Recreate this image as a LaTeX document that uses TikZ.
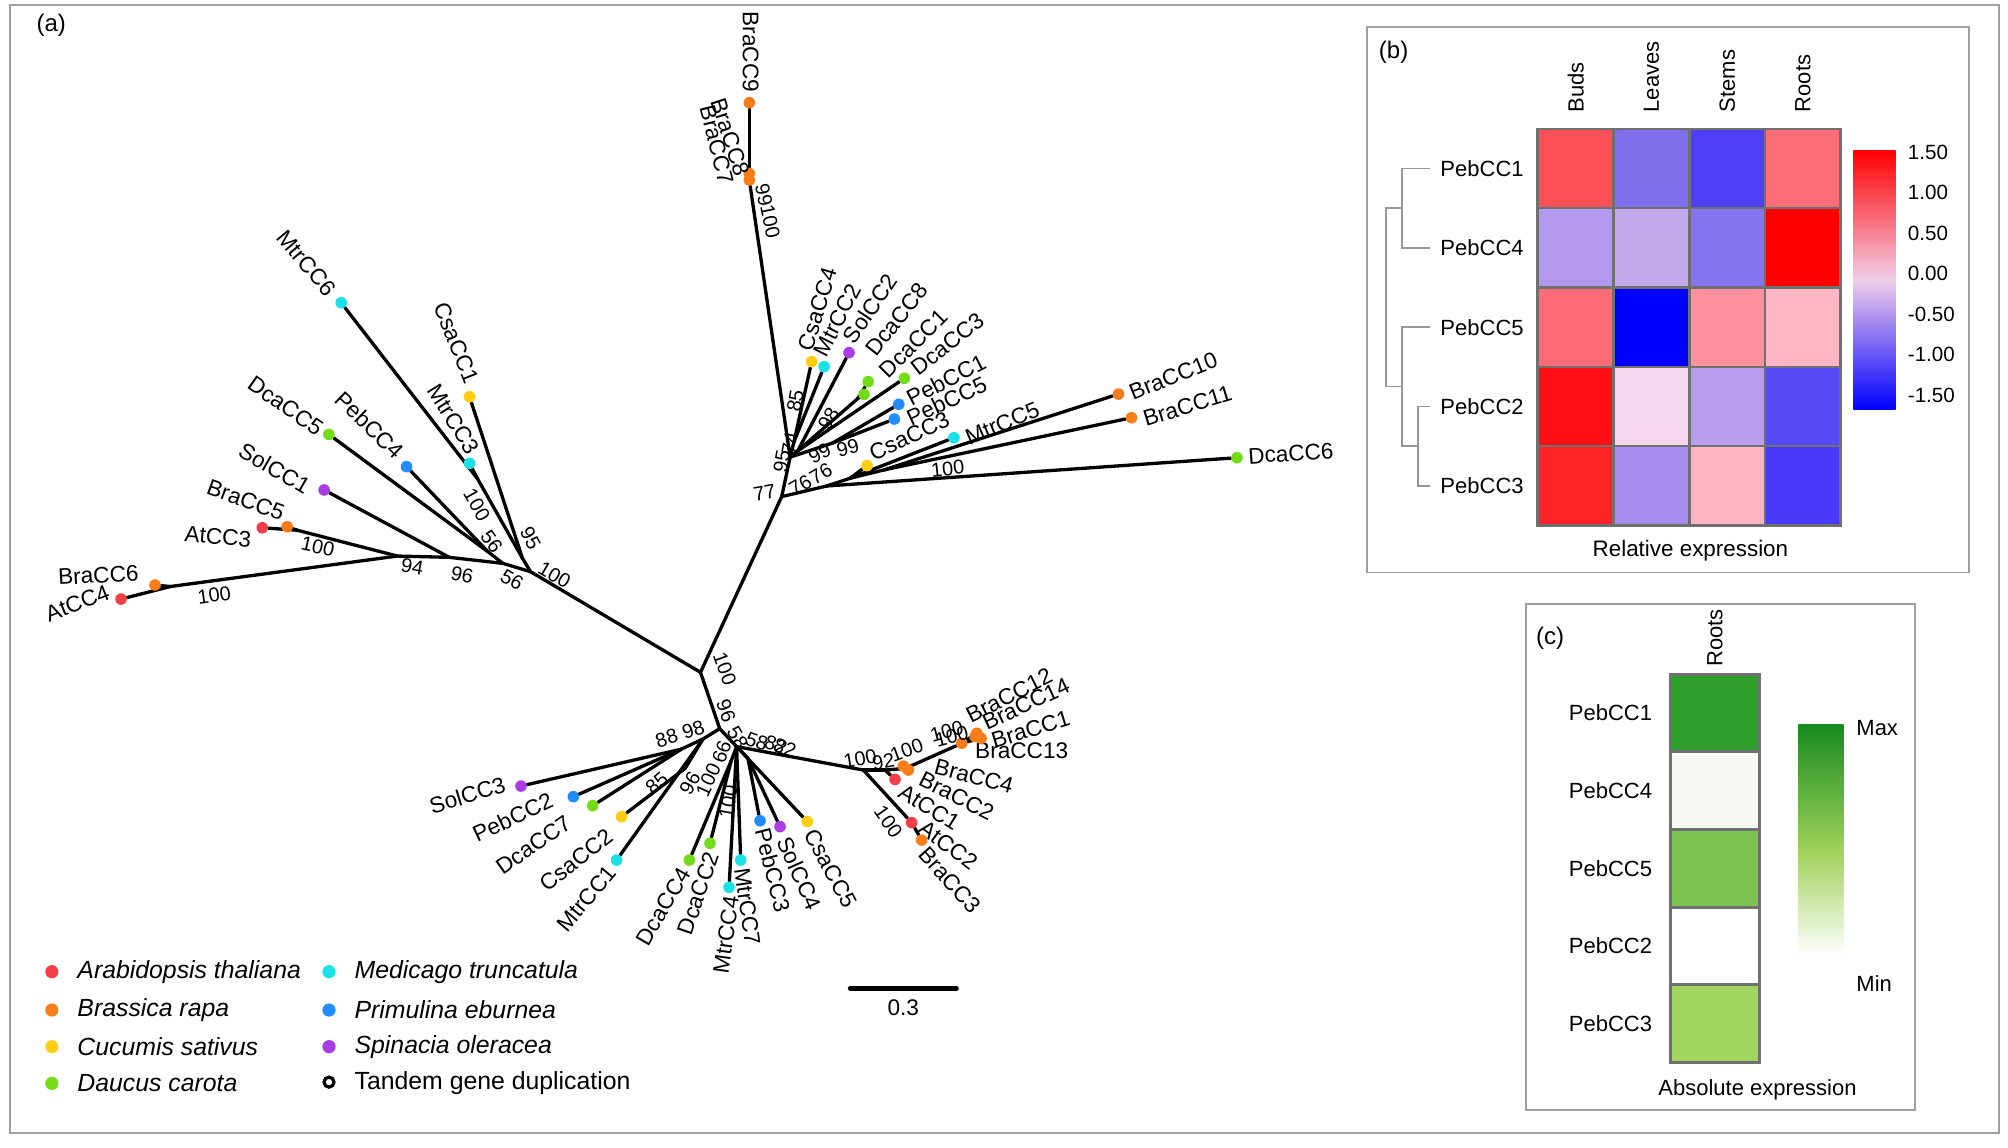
\documentclass[tikz,border=0pt]{standalone}
\usepackage{fontspec}
\setmainfont{Liberation Sans}
\usetikzlibrary{calc, backgrounds}
\definecolor{cAt}{RGB}{242,62,70}
\definecolor{cBra}{RGB}{250,125,25}
\definecolor{cCsa}{RGB}{255,205,20}
\definecolor{cDca}{RGB}{115,220,25}
\definecolor{cMtr}{RGB}{25,225,230}
\definecolor{cPeb}{RGB}{35,140,255}
\definecolor{cSol}{RGB}{170,60,230}
\definecolor{cFrame}{RGB}{160,160,160}
\definecolor{cGrid}{RGB}{112,112,112}
\definecolor{cDendro}{RGB}{150,150,150}
\definecolor{cMid}{RGB}{242,205,232}
\definecolor{cGmax}{RGB}{22,138,30}
\definecolor{cGmid}{RGB}{160,210,90}
\tikzset{
	tipdot/.style={circle, inner sep=0pt, minimum size=5.8pt},
	tiplbl/.style={inner sep=0pt, font=\fontsize{11.3}{13}\selectfont},
	boot/.style={inner sep=0pt, font=\fontsize{10}{12}\selectfont},
	branch/.style={line width=1.65pt, line cap=round},
	panelbox/.style={draw=cFrame, line width=0.9pt},
	cell/.style={draw=cGrid, line width=1.3pt},
	hmlbl/.style={inner sep=0pt, font=\fontsize{11}{13}\selectfont},
	dendro/.style={draw=cDendro, line width=0.9pt},
	legtxt/.style={inner sep=0pt, anchor=west, font=\fontsize{12.4}{14}\selectfont\itshape},
	tag/.style={inner sep=0pt, font=\fontsize{12}{14}\selectfont},
}

\begin{document}
\begin{tikzpicture}[x=0.64pt, y=-0.64pt]
\useasboundingbox (0,0) rectangle (1568,896);
% panel frames
\draw[panelbox] (8,4) rectangle (1561,885);
\draw[panelbox] (1067.5,21) rectangle (1537.7,447);
\draw[panelbox] (1191.6,471.7) rectangle (1495.4,866.8);
\node[tag] (ta) at (40,20) {(a)};
\node[tag] (tb) at (1088.2,41) {(b)};
\node[tag] (tc) at (1210.4,498.5) {(c)};

% (a) tree: tips
\foreach \n/\x/\y/\c/\lx/\ly/\r in {
	BraCC9/585.1/80.2/cBra/586.2/40.4/-90, BraCC8/585.1/135.5/cBra/570.6/107.2/-72,
	BraCC7/585.1/140.5/cBra/559.6/113.2/-76, CsaCC4/633.8/282.4/cCsa/638.2/241.5/73,
	MtrCC2/643.5/286.3/cMtr/653.8/249.9/63, SolCC2/663/275.4/cSol/679.4/240.8/56,
	DcaCC8/678/298/cDca/700.2/249.4/52, DcaCC1/674.7/307.9/cDca/713.2/268.1/45,
	DcaCC3/706.2/295.4/cDca/739.7/268.6/38, PebCC1/701.8/315.7/cPeb/738.7/296.7/27,
	PebCC5/698.4/327.2/cPeb/739.2/312.9/25, CsaCC3/677/363.6/cCsa/710.1/340.5/25,
	MtrCC5/744.9/341.8/cMtr/782.7/330.6/23, BraCC10/873.4/307.7/cBra/916.2/293.6/22,
	BraCC11/883.5/326.2/cBra/927.2/317/17, DcaCC6/965.9/357.4/cDca/1008/354/4,
	MtrCC6/266.4/236.4/cMtr/239.5/205.6/-50, CsaCC1/366.6/309.8/cCsa/356.5/267.6/-68,
	MtrCC3/366.6/361.8/cMtr/354.2/327.4/-58, PebCC4/317.5/364.4/cPeb/288.6/331.9/-44,
	DcaCC5/256.8/339.2/cDca/223/317/-35, SolCC1/253.1/382.6/cSol/214.4/365.7/-30,
	BraCC5/224.2/411.3/cBra/191.9/390.4/-20, AtCC3/204.8/412.1/cAt/170.2/419.1/-5,
	BraCC6/121/456.8/cBra/76.8/449/3, AtCC4/94.5/467.8/cAt/60.4/471/21,
	SolCC3/406.8/613.8/cSol/364.9/620.8/17, PebCC2/447.7/622.1/cPeb/400.3/638.2/25,
	DcaCC7/462.8/629.1/cDca/416.5/659.8/35, CsaCC2/485.4/637.7/cCsa/449.8/671.6/38,
	MtrCC1/481.5/671.6/cMtr/458.1/701.5/50, DcaCC4/538.3/671.6/cDca/518/708/60,
	DcaCC2/554.4/658.5/cDca/545.3/697.6/71, MtrCC4/569.3/692.9/cMtr/566.9/730.1/82,
	MtrCC7/578.4/671.6/cMtr/583.6/708/-82, PebCC3/593.5/640.9/cPeb/603.4/679.4/-76,
	SolCC4/609.1/645.5/cSol/624.2/682/-66, CsaCC5/630.4/641.6/cCsa/648.7/678/-62,
	AtCC2/711.9/642.4/cAt/740.5/659.8/-37, BraCC3/719.7/656/cBra/741.8/687.2/-48,
	AtCC1/698.9/608.6/cAt/725.7/630.4/-32, BraCC4/705.4/598.2/cBra/760.6/606/-15,
	BraCC2/709.3/601.3/cBra/747/621.6/-27, BraCC13/751/580.4/cBra/797.8/586.2/0,
	BraCC12/762.7/572.6/cBra/788/543/27, BraCC14/766.1/576.5/cBra/801.2/549.7/25,
	BraCC1/761.4/575.2/cBra/804.8/569.5/17}{
	\node[tipdot, fill=\c] (\n) at (\x,\y) {};
	\node[tiplbl, rotate=\r] (\n-t) at (\lx,\ly) {\n};
}

% (a) tree: inner nodes
\foreach \n/\x/\y in {R/547/525, A/610.4/387.8, T/617/357, T85/620/345, T98/623/352,
	TD/670/311, TP/650/346, D1/645.5/379.5, D2/663.7/373.5, BB2/690/367,
	L0/414.3/446.4, N95/408/436, NM/373/374, N56b/392.6/439.9, N56a/381/430.8,
	N96/350.8/435.2, N94/310.3/434.2, N2/232/414, N1/133/458,
	M/562/569, LL1/549/577, LL2/532/585, LL3/535/600, M2/575.2/583, M3/571/594,
	M5/584/592, RR/674.2/601.3, RR2/691.1/601.3, RB/707/600}
	\coordinate (\n) at (\x,\y);

\begin{scope}[on background layer]
\foreach \a/\b in {R/A, A/T, T/BraCC7, BraCC8/BraCC9, T/T85, T85/CsaCC4, T85/MtrCC2,
	T/T98, T98/SolCC2, T98/TD, TD/DcaCC1, TD/DcaCC8, T98/DcaCC3, T/TP, TP/PebCC1,
	TP/PebCC5, A/D1, D1/DcaCC6, D1/D2, D2/CsaCC3, D2/MtrCC5, D2/BB2, BB2/BraCC10,
	BB2/BraCC11, R/L0, L0/N95, N95/CsaCC1, N95/NM, NM/MtrCC6, NM/MtrCC3, L0/N56b,
	N56b/N56a, N56a/PebCC4, N56a/DcaCC5, N56b/N96, N96/SolCC1, N96/N94, N94/N2,
	N2/BraCC5, N2/AtCC3, N94/N1, N1/BraCC6, N1/AtCC4, R/M, M/LL1, LL1/MtrCC1,
	LL1/LL3, LL3/CsaCC2, LL1/LL2, LL2/DcaCC7, LL2/PebCC2, LL2/SolCC3, M/M2, M2/M3,
	M3/DcaCC4, M3/DcaCC2, M2/MtrCC4, M2/MtrCC7, M2/M5, M5/PebCC3, M5/SolCC4,
	M2/CsaCC5, M2/RR, RR/AtCC2, AtCC2/BraCC3, RR/RR2, RR2/AtCC1, RR2/RB, RB/BraCC4,
	RB/BraCC2, RB/BraCC13, BraCC13/BraCC1, BraCC13/BraCC12, BraCC13/BraCC14}
	\draw[branch] (\a) -- (\b);
\end{scope}

% bootstrap values
\foreach \v/\x/\y/\r [count=\k] in {99/596.5/152/-78, 100/601.5/173/-78, 85/621/313/80,
	98/647/327/60, 95/610.4/360/80, 74/617/346/80, 99/640/354/28, 99/662/350/15,
	76/625/379/30, 76/641/370/30, 77/597/385/10, 100/740/366/6,
	100/167.3/464.6/8, 100/248.2/426.9/-12, 94/321.9/442.5/-10, 96/360.9/449/-12,
	56/399.8/452.9/-30, 56/384/423/-55, 100/372.4/394.3/-60, 95/414.3/420.4/-62,
	100/433/449/-30, 100/566/522/-70, 96/567/555/-70, 58/576/576/-60, 58/591/579/-20,
	82/606/582/-20, 82/613/584/-20, 88/520.6/576.5/18, 98/541.4/570/18,
	85/512.8/611.7/40, 96/538.8/611.7/60, 100/553.1/609.1/65, 66/563.5/587/70,
	100/568.7/626/80, 100/671.6/592.2/10, 92/689.8/594.8/10, 100/708/585.7/20,
	100/693.7/641.6/-55, 100/739.3/571.4/15, 100/743.2/575.3/15}
	\node[boot, rotate=\r] (bs\k) at (\x,\y) {\v};

% scale bar
\coordinate (sbL) at (663.8,771.8);
\coordinate (sbR) at (747,771.8);
\draw[line width=2.2pt, line cap=round] (sbL) -- (sbR);
\node[tiplbl] (sbT) at (705.4,786.5) {0.3};

% legend
\foreach \c/\t/\x/\y [count=\k] in {cAt/Arabidopsis thaliana/40.5/758.8,
	cBra/Brassica rapa/40.5/788.7, cCsa/Cucumis sativus/40.5/817.3,
	cDca/Daucus carota/40.5/846, cMtr/Medicago truncatula/256.9/758.8,
	cPeb/Primulina eburnea/256.9/788.7, cSol/Spinacia oleracea/256.9/817.3}{
	\node[tipdot, minimum size=6.6pt, fill=\c] (lg\k) at (\x,\y) {};
	\node[legtxt] (lgt\k) at ($(lg\k)+(19.7,0)$) {\t};
}
\node[circle, draw=black, line width=1.6pt, fill=white, inner sep=0pt, minimum size=5pt] (lg8) at (256.9,845) {};
\node[legtxt, font=\fontsize{12.4}{14}\selectfont] (lgt8) at ($(lg8)+(19.7,1)$) {Tandem gene duplication};

% (b) heat map
\foreach \i/\j/\R/\G/\B in {0/0/255/80/85, 0/1/128/112/238, 0/2/78/64/248, 0/3/255/110/118,
	1/0/178/152/238, 1/1/196/168/236, 1/2/132/116/240, 1/3/255/0/0,
	2/0/255/108/118, 2/1/0/0/255, 2/2/255/145/158, 2/3/255/182/198,
	3/0/255/15/20, 3/1/246/214/238, 3/2/184/158/236, 3/3/86/74/246,
	4/0/255/35/40, 4/1/166/142/238, 4/2/255/180/196, 4/3/72/58/246}{
	\definecolor{hmc}{RGB}{\R,\G,\B}
	\draw[cell, fill=hmc] ({1200.8+59.15*\j},{100.6+61.94*\i}) rectangle ++(59.15,61.94);
}
\foreach \t [count=\j from 0] in {Buds, Leaves, Stems, Roots}
	\node[hmlbl, rotate=90, anchor=west] (hcol\j) at ({1230.4+59.15*\j},88) {\t};
\foreach \t [count=\i from 0] in {PebCC1, PebCC4, PebCC5, PebCC2, PebCC3}
	\node[hmlbl, anchor=west] (hb\i) at (1124.5,{131.6+61.94*\i}) {\t};
\coordinate (dA) at (1094.6,162.5);
\coordinate (dC) at (1107,348.2);
\coordinate (dB) at (1094.6,301.8);
\coordinate (dR) at (1082.3,232.1);
\draw[dendro] ([xshift=-5pt]hb0.west) -| (dA) |- ([xshift=-5pt]hb1.west);
\draw[dendro] ([xshift=-5pt]hb3.west) -| (dC) |- ([xshift=-5pt]hb4.west);
\draw[dendro] ([xshift=-5pt]hb2.west) -| (dB) |- (dC);
\draw[dendro] (dA) -| (dR) |- (dB);
\shade[top color=red, bottom color=blue, middle color=cMid] (1447.2,117.4) rectangle (1480.2,319.6);
\foreach \t [count=\i from 0] in {1.50, 1.00, 0.50, 0.00, -0.50, -1.00, -1.50}
	\node[boot, anchor=west, font=\fontsize{10.3}{12}\selectfont] (cb\i) at (1489.5,{118.8+31.6*\i}) {\t};
\node[hmlbl, font=\fontsize{11.2}{13}\selectfont] (relx) at (1320,430) {Relative expression};

% (c) absolute expression
\foreach \t/\R/\G/\B [count=\i from 0] in {PebCC1/48/160/44, PebCC4/246/250/242,
	PebCC5/126/196/82, PebCC2/255/255/255, PebCC3/160/214/96}{
	\definecolor{hmc}{RGB}{\R,\G,\B}
	\draw[cell, line width=1.5pt, fill=hmc] (1304.6,{526.3+60.7*\i}) rectangle ++(69,60.7);
	\node[hmlbl] (hc\i) at (1257.6,{556.65+60.7*\i}) {\t};
}
\node[hmlbl, rotate=90, anchor=west] (hcr) at (1339.1,521) {Roots};
\shade[top color=cGmax, bottom color=cGmid] (1404.3,565.4) rectangle (1439.4,664.6);
\shade[top color=cGmid, bottom color=white] (1404.3,664.6) rectangle (1439.4,745.7);
\node[hmlbl, anchor=west] (gmax) at (1449.3,568.7) {Max};
\node[hmlbl, anchor=west] (gmin) at (1449.3,767.9) {Min};
\node[hmlbl] (absx) at (1372.4,851.2) {Absolute expression};
\end{tikzpicture}
\end{document}
